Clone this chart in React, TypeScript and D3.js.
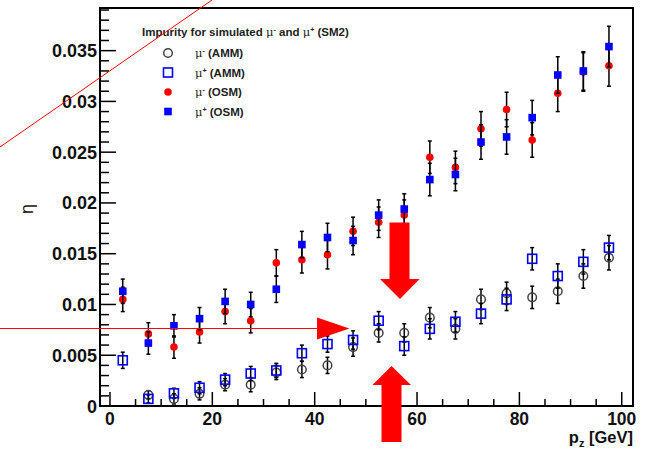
import React from "react";
import * as d3 from "d3";

const pz = [2.5, 7.5, 12.5, 17.5, 22.5, 27.5, 32.5, 37.5, 42.5, 47.5, 52.5, 57.5, 62.5, 67.5, 72.5, 77.5, 82.5, 87.5, 92.5, 97.5];

const ammMinus = [null, 0.0011, 0.0007, 0.0012, 0.0021, 0.0021, 0.0033, 0.0036, 0.0040, 0.0058, 0.0072, 0.0072, 0.0087, 0.0076, 0.0105, 0.0111, 0.0107, 0.0113, 0.0128, 0.0146];
const ammPlus = [0.0045, 0.0007, 0.00125, 0.0018, 0.0026, 0.0032, 0.0035, 0.0052, 0.0061, 0.0065, 0.0084, 0.0059, 0.0076, 0.0083, 0.0091, 0.0105, 0.0145, 0.0128, 0.0142, 0.0156];
const osmMinus = [0.0105, 0.0071, 0.0058, 0.0073, 0.0093, 0.0084, 0.0141, 0.0144, 0.0149, 0.0172, 0.0181, 0.0188, 0.0245, 0.0235, 0.0273, 0.0292, 0.0262, 0.0308, 0.0329, 0.0335];
const osmPlus = [0.0113, 0.0062, 0.0079, 0.0086, 0.0103, 0.0100, 0.0115, 0.0159, 0.0166, 0.0163, 0.0188, 0.0194, 0.0223, 0.0228, 0.0260, 0.0265, 0.0284, 0.0326, 0.0330, 0.0354];

const ammErr = [0.0008, 0.0004, 0.0005, 0.0006, 0.0006, 0.0007, 0.0007, 0.0008, 0.0008, 0.0009, 0.0009, 0.0009, 0.0010, 0.0010, 0.0010, 0.0011, 0.0011, 0.0012, 0.0012, 0.0012];
const osmErr = [0.0012, 0.0011, 0.0011, 0.0011, 0.0012, 0.0012, 0.0013, 0.0013, 0.0014, 0.0014, 0.0015, 0.0015, 0.0016, 0.0016, 0.0017, 0.0017, 0.0017, 0.0018, 0.0019, 0.0020];

const xTicks = [0, 20, 40, 60, 80, 100];
const yTicks = [0, 0.005, 0.01, 0.015, 0.02, 0.025, 0.03, 0.035];
const yTickLabels = ["0", "0.005", "0.01", "0.015", "0.02", "0.025", "0.03", "0.035"];

const legendTitle = "Impurity for simulated ";
const legendLabels = [
  { sign: "-", tag: "(AMM)" },
  { sign: "+", tag: "(AMM)" },
  { sign: "-", tag: "(OSM)" },
  { sign: "+", tag: "(OSM)" },
];

const W = 646, H = 450;
const L = 100, R = 633, T = 8, B = 406;

export default function App() {
  const x = d3.scaleLinear().domain([-1.95, 102.2]).range([L, R]);
  const y = d3.scaleLinear().domain([0, 0.0392]).range([B, T]);
  const font = "'Liberation Sans', Arial, Helvetica, sans-serif";

  const xMinor = d3.range(0, 101, 5);
  const yMinor = d3.range(0, 0.0391, 0.001);

  const errBars = (vals: (number | null)[], errs: number[], key: string) =>
    vals.map((v, i) => {
      if (v == null) return null;
      const cx = x(pz[i]);
      const y1 = y(v + errs[i]);
      const y2 = y(v - errs[i]);
      return (
        <g key={key + i} stroke="#000" strokeWidth={1.5}>
          <line x1={cx} x2={cx} y1={y1} y2={y2} />
          <line x1={cx - 2} x2={cx + 2} y1={y1} y2={y1} />
          <line x1={cx - 2} x2={cx + 2} y1={y2} y2={y2} />
        </g>
      );
    });

  const openCircle = (cx: number, cy: number, k: string) => (
    <circle key={k} cx={cx} cy={cy} r={4.3} fill="none" stroke="#444" strokeWidth={1.5} />
  );
  const openSquare = (cx: number, cy: number, k: string) => (
    <rect key={k} x={cx - 4.5} y={cy - 4.5} width={9} height={9} fill="none" stroke="#0000ff" strokeWidth={1.6} />
  );
  const fullCircle = (cx: number, cy: number, k: string) => (
    <circle key={k} cx={cx} cy={cy} r={3.8} fill="#ff0000" />
  );
  const fullSquare = (cx: number, cy: number, k: string) => (
    <rect key={k} x={cx - 3.8} y={cy - 3.8} width={7.6} height={7.6} fill="#0000ff" />
  );

  const markers = (vals: (number | null)[], fn: any, key: string) =>
    vals.map((v, i) => (v == null ? null : fn(x(pz[i]), y(v), key + i)));

  const legendMarkers = [openCircle, openSquare, fullCircle, fullSquare];

  return (
    <svg width={W} height={H} style={{ position: "absolute", left: 0, top: 0, background: "#fff" }} fontFamily={font}>
      <rect x={0} y={0} width={W} height={H} fill="#fff" />
      {/* frame */}
      <rect x={L} y={T} width={R - L} height={B - T} fill="none" stroke="#000" strokeWidth={2} />

      {/* x ticks */}
      {xMinor.map((v) => {
        const major = v % 20 === 0;
        return <line key={"xm" + v} x1={x(v)} x2={x(v)} y1={B} y2={B - (major ? 14 : 7)} stroke="#000" strokeWidth={1.5} />;
      })}
      {xTicks.map((v) => (
        <text key={"xl" + v} x={x(v)} y={425} textAnchor="middle" fontSize={17.5} fontWeight="bold" fill="#111">
          {v}
        </text>
      ))}

      {/* y ticks */}
      {yMinor.map((v, i) => {
        const major = i % 5 === 0;
        return <line key={"ym" + i} x1={L} x2={L + (major ? 16 : 9)} y1={y(v)} y2={y(v)} stroke="#000" strokeWidth={1.5} />;
      })}
      {yTicks.map((v, i) => (
        <text key={"yl" + i} x={97} y={y(v) + 6.5} textAnchor="end" fontSize={18} fontWeight="bold" fill="#111">
          {yTickLabels[i]}
        </text>
      ))}

      {/* axis titles */}
      <text transform="translate(33,209) rotate(-90)" textAnchor="middle" fontSize={18} fill="#111">η</text>
      <text x={633} y={443} textAnchor="end" fontSize={16.5} fontWeight="bold" fill="#111">
        p<tspan fontSize={11} dy={4}>z</tspan><tspan dy={-4}> [GeV]</tspan>
      </text>

      {/* data */}
      {errBars(ammMinus, ammErr, "e1")}
      {markers(ammMinus, openCircle, "m1")}
      {errBars(ammPlus, ammErr, "e2")}
      {markers(ammPlus, openSquare, "m2")}
      {errBars(osmMinus, osmErr, "e3")}
      {markers(osmMinus, fullCircle, "m3")}
      {errBars(osmPlus, osmErr, "e4")}
      {markers(osmPlus, fullSquare, "m4")}

      {/* legend */}
      <text x={142} y={36} fontSize={11.5} fontWeight="bold" fill="#222">
        {legendTitle}
        <tspan fontWeight="normal" fontFamily="'DejaVu Serif', serif">μ</tspan>
        <tspan fontSize={7} dy={-4}>-</tspan>
        <tspan dy={4}> and </tspan>
        <tspan fontWeight="normal" fontFamily="'DejaVu Serif', serif">μ</tspan>
        <tspan fontSize={7} dy={-4}>+</tspan>
        <tspan dy={4}> (SM2)</tspan>
      </text>
      {legendLabels.map((d, i) => {
        const cy = 53 + i * 19.5;
        return (
          <g key={"lg" + i}>
            {legendMarkers[i](168, cy, "lm" + i)}
            <text x={195} y={cy + 4} fontSize={11.5} fontWeight="bold" fill="#222">
              <tspan fontWeight="normal" fontFamily="'DejaVu Serif', serif">μ</tspan>
              <tspan fontSize={7} dy={-4}>{d.sign}</tspan>
              <tspan dy={4}> {d.tag}</tspan>
            </text>
          </g>
        );
      })}

      {/* annotations */}
      <line x1={0} y1={147} x2={212} y2={0} stroke="#ff0000" strokeWidth={1} />
      <line x1={0} y1={328.5} x2={318} y2={328.5} stroke="#ff0000" strokeWidth={1.2} />
      <polygon points="317,317.5 349.5,328.5 317,339.5" fill="#ff0000" />
      <polygon points="389.5,222.5 409.5,222.5 409.5,279 419.5,279 400,299 380,279 389.5,279" fill="#ff0000" />
      <polygon points="381.5,442 401.5,442 401.5,385 411,385 391.5,366 372.5,385 381.5,385" fill="#ff0000" />
    </svg>
  );
}
